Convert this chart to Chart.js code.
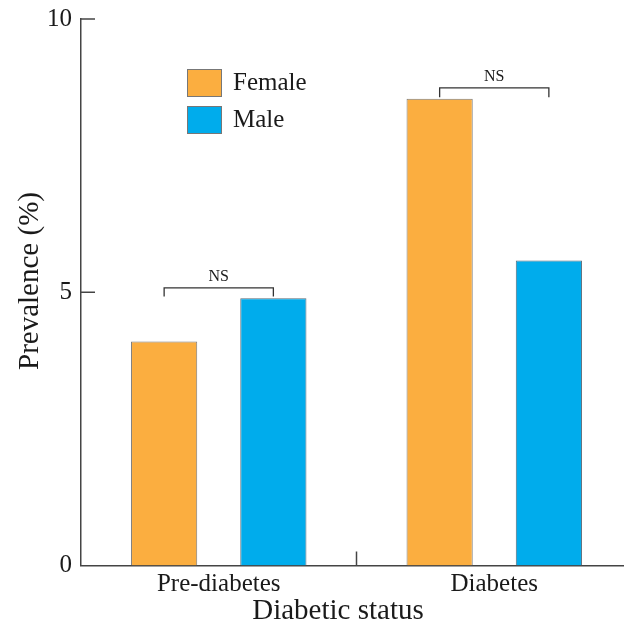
<!DOCTYPE html>
<html>
<head>
<meta charset="utf-8">
<script src="https://cdn.jsdelivr.net/npm/chart.js@4/dist/chart.umd.min.js"></script>
<style>
  html, body { margin: 0; padding: 0; background: #fff; overflow: hidden; }
  #wrap { width: 632px; height: 631px; }
</style>
</head>
<body>
<div id="wrap"><canvas id="chart"></canvas></div>
<script>
  // data
  const categories = ['Pre-diabetes', 'Diabetes'];
  const femaleValues = [4.10, 8.54];
  const maleValues = [4.89, 5.58];
  const yTicks = [0, 5, 10];
  // significance brackets: label, top of bracket and end of legs (in %)
  const bracketLabels = ['NS', 'NS'];
  const bracketTop = [5.08, 8.74];
  const bracketLeg = [4.92, 8.57];
  const xTitle = 'Diabetic status';
  const yTitle = 'Prevalence (%)';

  const serif = "'Liberation Serif', 'Times New Roman', serif";
  const ink = '#1a1a1a';
  const axisColor = '#444';

  // inward ticks, axis titles, brackets and legend
  const decorations = {
    id: 'decorations',
    afterDatasetsDraw(chart) {
      const ctx = chart.ctx;
      const area = chart.chartArea;
      const x = chart.scales.x;
      const y = chart.scales.y;
      ctx.save();
      ctx.strokeStyle = axisColor;
      ctx.lineWidth = 1.5;

      // y ticks pointing into the plot
      yTicks.forEach(v => {
        if (v === 0) return;
        const py = y.getPixelForValue(v);
        ctx.beginPath();
        ctx.moveTo(area.left, py);
        ctx.lineTo(area.left + 14, py);
        ctx.stroke();
      });

      // x tick between the two groups
      for (let i = 0; i < categories.length - 1; i++) {
        const px = (x.getPixelForValue(i) + x.getPixelForValue(i + 1)) / 2;
        ctx.beginPath();
        ctx.moveTo(px, area.bottom);
        ctx.lineTo(px, area.bottom - 14);
        ctx.stroke();
      }

      // axis titles (sit a little off the plot centre in the original)
      ctx.fillStyle = ink;
      ctx.font = '29px ' + serif;
      ctx.textAlign = 'center';
      ctx.textBaseline = 'middle';
      ctx.fillText(xTitle, 338, 611);
      ctx.save();
      ctx.translate(30, 281);
      ctx.rotate(-Math.PI / 2);
      ctx.fillText(yTitle, 0, 0);
      ctx.restore();

      // NS brackets
      const fMeta = chart.getDatasetMeta(0);
      const mMeta = chart.getDatasetMeta(1);
      ctx.strokeStyle = '#333';
      ctx.lineWidth = 1.3;
      ctx.font = '16px ' + serif;
      ctx.textBaseline = 'bottom';
      categories.forEach((c, i) => {
        const x1 = fMeta.data[i].x;
        const x2 = mMeta.data[i].x;
        const top = y.getPixelForValue(bracketTop[i]);
        const leg = y.getPixelForValue(bracketLeg[i]);
        ctx.beginPath();
        ctx.moveTo(x1, leg);
        ctx.lineTo(x1, top);
        ctx.lineTo(x2, top);
        ctx.lineTo(x2, leg);
        ctx.stroke();
        ctx.fillText(bracketLabels[i], (x1 + x2) / 2, top - 3);
      });

      // legend
      ctx.font = '25px ' + serif;
      ctx.textAlign = 'left';
      ctx.textBaseline = 'middle';
      chart.data.datasets.forEach((ds, i) => {
        const by = 69 + i * 37;
        ctx.fillStyle = ds.backgroundColor;
        ctx.fillRect(187, by, 34, 27);
        ctx.strokeStyle = '#777';
        ctx.lineWidth = 1;
        ctx.strokeRect(187.5, by + 0.5, 34, 27);
        ctx.fillStyle = ink;
        ctx.fillText(ds.label, 233, by + 14);
      });
      ctx.restore();
    }
  };

  new Chart(document.getElementById('chart'), {
    type: 'bar',
    data: {
      labels: categories,
      datasets: [
        {
          label: 'Female',
          data: femaleValues,
          backgroundColor: '#FBAE40',
          borderColor: '#7a7a7a',
          borderWidth: 1
        },
        {
          label: 'Male',
          data: maleValues,
          backgroundColor: '#00ACEC',
          borderColor: '#5a6a78',
          borderWidth: 1
        }
      ]
    },
    options: {
      responsive: true,
      maintainAspectRatio: false,
      animation: false,
      layout: { padding: { top: 19, right: 0, left: 0, bottom: 0 } },
      datasets: {
        bar: { categoryPercentage: 0.793, barPercentage: 0.606 }
      },
      plugins: {
        legend: { display: false },
        tooltip: { enabled: false }
      },
      scales: {
        x: {
          grid: { display: false, drawTicks: false },
          border: { display: true, color: axisColor, width: 1.5 },
          ticks: { color: ink, font: { family: serif, size: 25 }, padding: 4 },
          afterFit(scale) { scale.height = 65.5; }
        },
        y: {
          min: 0,
          max: 10,
          afterBuildTicks(scale) { scale.ticks = yTicks.map(v => ({ value: v })); },
          grid: { display: false, drawTicks: false },
          border: { display: true, color: axisColor, width: 1.5 },
          ticks: { color: ink, font: { family: serif, size: 25 }, padding: 9 },
          afterFit(scale) {
            scale.width = 81;
            scale.paddingTop = 0;
            scale.paddingBottom = 0;
          }
        }
      }
    },
    plugins: [decorations]
  });
</script>
</body>
</html>
